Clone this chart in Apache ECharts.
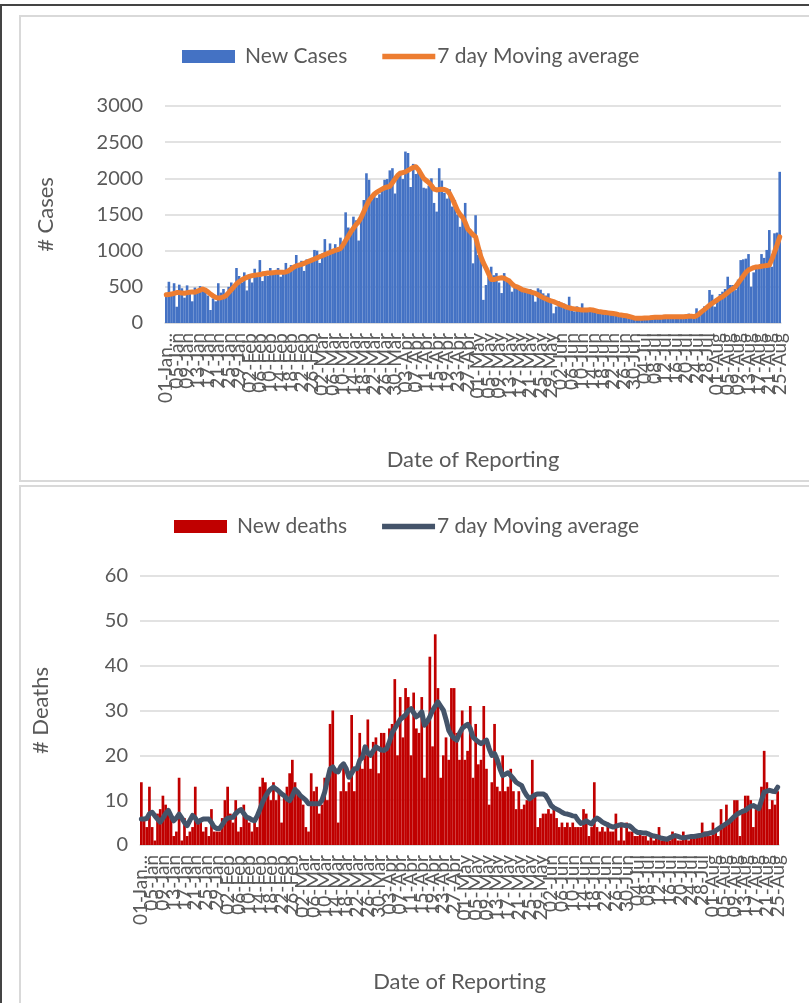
<!DOCTYPE html>
<html>
<head>
<meta charset="utf-8">
<script src="https://cdn.jsdelivr.net/npm/echarts@6/dist/echarts.min.js"></script>
<style>
  html, body { margin: 0; padding: 0; background: #ffffff; width: 809px; height: 1003px; overflow: hidden; }
  #frame { position: absolute; left: 0; top: 4px; width: 830px; height: 1020px; border-left: 2px solid #444; border-top: 2px solid #444; box-sizing: border-box; }
  .panel { position: absolute; left: 19px; width: 820px; border: 2px solid #D9D9D9; box-sizing: border-box; background: #fff; }
  #p1 { top: 15px; height: 467px; }
  #p2 { top: 485px; height: 520px; }
  #c1 { position: absolute; left: 21px; top: 17px; width: 800px; height: 463px; }
  #c2 { position: absolute; left: 21px; top: 487px; width: 800px; height: 514px; }
</style>
</head>
<body>
<div id="frame"></div>
<div class="panel" id="p1"></div>
<div class="panel" id="p2"></div>
<div id="c1"></div>
<div id="c2"></div>
<script>
// ---------- categories (2021, 01-Jan .. 25-Aug) ----------
const monthNames = ['Jan','Feb','Mar','Apr','May','Jun','Jul','Aug'];
const monthLengths = [31, 28, 31, 30, 31, 30, 31, 25];
const dates = [];
monthNames.forEach(function (m, k) {
  for (let d = 1; d <= monthLengths[k]; d++) dates.push((d < 10 ? '0' : '') + d + '-' + m);
});
const labelStep = 4;

// ---------- New cases (daily) ----------
const newCases = [
  380, 570, 420, 550, 225, 530, 480, 350, 520, 430,
  300, 490, 470, 510, 480, 440, 380, 180, 340, 300,
  550, 420, 470, 380, 500, 560, 480, 760, 650, 560,
  700, 450, 640, 560, 750, 690, 870, 580, 700, 650,
  760, 700, 690, 760, 640, 720, 830, 700, 800, 760,
  940, 800, 860, 720, 880, 830, 900, 1010, 1000, 830,
  960, 1160, 930, 1100, 980, 1090, 1020, 1180, 1080, 1530,
  1320, 1300, 1470, 1420, 1140, 1500, 1700, 2070, 1980, 1700,
  1800, 1730, 1780, 1850, 1980, 1990, 2110, 2140, 1790, 2020,
  2100, 1990, 2370, 2350, 1880, 2200, 2060, 2110, 2050, 1870,
  1860, 1900, 2000, 1660, 1540, 2140, 1970, 1800, 1720, 1850,
  1610, 1700, 1500, 1330, 1480, 1660, 1300, 1290, 825, 1490,
  940, 1010, 320, 525, 640, 778, 660, 690, 560, 414,
  690, 594, 580, 433, 520, 480, 470, 433, 450, 440,
  470, 387, 295, 480, 460, 410, 380, 410, 330, 134,
  226, 300, 280, 270, 250, 363, 200, 160, 230, 200,
  272, 160, 180, 200, 170, 150, 190, 140, 170, 130,
  140, 150, 120, 110, 130, 90, 100, 100, 80, 70,
  60, 70, 55, 80, 65, 70, 85, 60, 90, 80,
  70, 90, 85, 95, 75, 80, 100, 90, 85, 80,
  95, 130, 90, 100, 203, 150, 160, 230, 210, 456,
  391, 226, 300, 400, 433, 470, 640, 525, 525, 455,
  600, 870, 880, 890, 953, 502, 700, 778, 750, 953,
  900, 1010, 1285, 778, 1240, 1250, 2090
];

// ---------- Cases 7-day moving average ----------
const casesAvg = [
  390, 395, 400, 410, 420, 420, 415, 410, 420, 425,
  430, 425, 440, 455, 470, 455, 430, 400, 375, 355,
  345, 350, 360, 380, 420, 460, 500, 540, 570, 595,
  615, 630, 645, 655, 660, 665, 670, 680, 685, 690,
  690, 695, 700, 700, 700, 700, 705, 720, 745, 770,
  790, 800, 810, 825, 840, 855, 870, 885, 900, 915,
  930, 945, 960, 975, 990, 1005, 1015, 1030, 1080, 1140,
  1200, 1260, 1310, 1360, 1400, 1460, 1540, 1620, 1690, 1740,
  1780, 1810, 1830, 1850, 1870, 1880, 1890, 1940, 1990, 2040,
  2070, 2080, 2090, 2110, 2130, 2150, 2160, 2120, 2060, 2000,
  1970, 1940, 1900, 1850, 1840, 1845, 1850, 1845, 1830, 1790,
  1720, 1640, 1560, 1500, 1460, 1390, 1300, 1260, 1220, 1190,
  1050, 920, 830, 760, 680, 600, 600, 610, 620, 625,
  620, 600, 580, 540, 510, 500, 480, 460, 450, 440,
  430, 420, 410, 390, 370, 350, 335, 320, 305, 295,
  280, 265, 250, 235, 220, 210, 200, 195, 190, 185,
  180, 180, 180, 185, 180, 170, 160, 155, 150, 145,
  140, 135, 130, 125, 115, 110, 105, 100, 90, 80,
  70, 65, 65, 65, 68, 70, 72, 75, 78, 80,
  80, 82, 85, 85, 85, 88, 88, 88, 88, 88,
  90, 92, 95, 88, 100, 125, 157, 185, 215, 245,
  272, 295, 320, 345, 364, 390, 420, 450, 475, 502,
  550, 600, 650, 700, 733, 750, 765, 775, 778, 785,
  790, 795, 800, 880, 980, 1080, 1190
];

// ---------- New deaths (daily) ----------
const newDeaths = [
  14, 6, 4, 13, 4, 1, 7, 8, 11, 9,
  7, 6, 2, 3, 15, 1, 6, 2, 3, 4,
  13, 5, 6, 3, 4, 2, 8, 3, 3, 3,
  6, 10, 13, 7, 5, 10, 3, 4, 9, 6,
  5, 3, 6, 4, 13, 15, 14, 12, 10, 14,
  10, 12, 5, 11, 13, 16, 19, 14, 12, 11,
  9, 4, 3, 16, 12, 13, 7, 9, 15, 10,
  27, 30, 17, 5, 12, 18, 12, 14, 29, 12,
  17, 25, 17, 20, 28, 17, 23, 24, 16, 25,
  25, 22, 26, 27, 37, 20, 33, 24, 35, 33,
  20, 34, 26, 25, 33, 15, 28, 42, 22, 47,
  35, 15, 20, 24, 19, 35, 35, 25, 19, 30,
  19, 21, 31, 15, 27, 18, 19, 31, 17, 9,
  14, 27, 13, 12, 20, 12, 13, 17, 12, 8,
  12, 8, 9, 10, 10, 19, 11, 4, 6, 7,
  7, 8, 7, 8, 6, 4, 5, 4, 5, 4,
  5, 4, 4, 4, 8, 7, 2, 4, 14, 4,
  3, 4, 3, 5, 3, 3, 7, 1, 5, 1,
  5, 3, 3, 2, 2, 3, 2, 2, 1, 2,
  1, 2, 4, 1, 1, 1, 1, 3, 2, 1,
  1, 3, 2, 1, 2, 2, 2, 2, 5, 3,
  3, 2, 5, 3, 2, 8, 4, 9, 5, 6,
  10, 10, 2, 8, 11, 11, 10, 4, 8, 8,
  13, 21, 14, 8, 10, 9, 12
];

// ---------- Deaths 7-day moving average ----------
const deathsAvg = [
  5.8, 5.8, 5.9, 7.0, 7.3, 6.5, 5.8, 5.1, 6.0, 7.0,
  7.7, 6.5, 5.4, 6.0, 6.9, 6.0, 5.0, 4.3, 5.5, 6.6,
  6.0, 5.1, 5.5, 5.8, 5.8, 5.8, 5.0, 4.0, 3.7, 3.7,
  4.5, 5.5, 6.0, 6.1, 6.2, 7.0, 7.6, 7.9, 7.0, 6.2,
  6.0, 5.6, 5.4, 6.5, 8.0, 9.6, 10.8, 11.8, 12.5, 12.9,
  12.5, 12.0, 11.4, 11.0, 10.3, 9.9, 11.0, 12.4, 11.8, 11.0,
  10.5, 10.0, 9.2, 9.2, 9.2, 9.2, 9.2, 10.0, 11.8, 14.5,
  17.0, 17.4, 16.5, 16.3, 17.5, 18.1, 17.0, 15.1, 16.0, 17.0,
  17.0, 18.9, 19.5, 21.9, 20.5, 20.0, 21.0, 21.9, 21.5, 21.2,
  21.1, 21.5, 23.0, 25.0, 26.0, 27.0, 28.0, 28.5, 29.0, 30.0,
  30.4, 29.5, 28.6, 29.0, 29.7, 26.7, 27.5, 28.6, 30.0, 31.0,
  31.9, 31.0, 30.1, 28.0, 25.6, 24.5, 23.8, 23.4, 24.9, 26.0,
  26.5, 26.9, 26.0, 24.1, 23.5, 23.0, 22.6, 23.0, 23.4, 21.5,
  20.0, 20.4, 19.0, 17.0, 15.5, 15.8, 16.1, 15.5, 14.8, 14.0,
  13.6, 13.3, 12.0, 11.0, 10.3, 10.8, 11.2, 11.4, 11.4, 11.4,
  11.0, 10.0, 8.8, 8.3, 8.0, 7.7, 7.3, 7.0, 6.9, 6.7,
  6.5, 6.4, 5.5, 4.8, 5.0, 5.4, 5.0, 4.7, 5.5, 6.0,
  5.6, 5.1, 4.8, 4.5, 4.2, 4.0, 4.2, 4.4, 4.5, 4.4,
  4.3, 4.3, 3.8, 3.2, 2.8, 2.8, 2.7, 2.7, 2.5, 2.2,
  2.0, 1.9, 1.7, 1.5, 1.4, 1.3, 1.6, 1.9, 2.1, 1.9,
  1.7, 1.6, 1.7, 1.8, 1.9, 1.9, 2.0, 2.1, 2.2, 2.4,
  2.5, 2.7, 2.8, 3.2, 3.6, 4.0, 4.4, 4.8, 5.2, 5.8,
  6.4, 6.9, 7.2, 7.5, 7.7, 8.2, 8.6, 8.8, 8.5, 8.1,
  10.0, 11.8, 12.0, 12.2, 12.0, 11.9, 12.9
];

const caseTicks = { min: 0, max: 3000, interval: 500 };
const deathTicks = { min: 0, max: 60, interval: 10 };

// ---------- styles ----------
const FONT = 'Lato';
const TXT = '#595959';
const GRID = '#D9D9D9';
const lineIcon = 'path://M0,0 L40,0 L40,4 L0,4 Z';

// labels next to the first / last one, drawn on an overlay axis so that
// ECharts' min/max overlap handling does not drop them
const lastIdx = dates.length - 1;
const extraLabelIdx = [labelStep, lastIdx - labelStep];

function xLabelStyle(extra) {
  return Object.assign({
    rotate: 90,
    margin: 10,
    fontFamily: FONT,
    fontSize: 19,
    color: TXT,
    hideOverlap: false
  }, extra);
}

function build(cfg) {
  return {
    animation: false,
    textStyle: { fontFamily: FONT, color: TXT },
    legend: {
      top: 24,
      left: cfg.legendLeft,
      itemWidth: 53,
      itemHeight: 13,
      itemGap: 35,
      textStyle: { fontFamily: FONT, fontSize: 21, color: TXT },
      data: [
        { name: cfg.barName, icon: 'rect', textStyle: { padding: [0, 0, 0, 5] } },
        { name: '7 day Moving average', icon: lineIcon, textStyle: { padding: [0, 0, 0, -3] } }
      ]
    },
    grid: { left: cfg.gridLeft, top: 89, width: cfg.gridWidth, height: cfg.gridHeight, containLabel: false },
    xAxis: [
      {
        type: 'category',
        data: dates,
        boundaryGap: true,
        axisLine: { show: true, lineStyle: { color: GRID, width: 1.5 } },
        axisTick: { show: false },
        axisLabel: xLabelStyle({
          interval: labelStep - 1,
          showMinLabel: true,
          showMaxLabel: true,
          formatter: function (v, i) { return i === 0 ? v + '…' : v; }
        }),
        name: 'Date of Reporting',
        nameLocation: 'middle',
        nameGap: cfg.xNameGap,
        nameTextStyle: { fontFamily: FONT, fontSize: 22, color: TXT }
      },
      {
        type: 'category',
        data: dates,
        position: 'bottom',
        boundaryGap: true,
        axisLine: { show: false },
        axisTick: { show: false },
        splitLine: { show: false },
        axisLabel: xLabelStyle({
          interval: function (i) { return extraLabelIdx.indexOf(i) >= 0; }
        })
      }
    ],
    yAxis: {
      type: 'value',
      min: cfg.ticks.min,
      max: cfg.ticks.max,
      interval: cfg.ticks.interval,
      axisLine: { show: false },
      axisTick: { show: false },
      splitLine: { lineStyle: { color: GRID, width: 1.5 } },
      axisLabel: {
        fontFamily: FONT, fontSize: 20, color: TXT, margin: cfg.yLabelMargin,
        formatter: function (v) { return String(v); }
      },
      name: cfg.yName,
      nameLocation: 'middle',
      nameGap: cfg.yNameGap,
      nameRotate: 90,
      nameTextStyle: { fontFamily: FONT, fontSize: 22, color: TXT }
    },
    series: [
      {
        name: cfg.barName,
        type: 'bar',
        xAxisIndex: 0,
        data: cfg.bars,
        barCategoryGap: '0%',
        itemStyle: { color: cfg.barColor },
        emphasis: { disabled: true }
      },
      {
        name: '7 day Moving average',
        type: 'line',
        xAxisIndex: 0,
        data: cfg.avg,
        symbol: 'none',
        smooth: false,
        lineStyle: { color: cfg.lineColor, width: cfg.lineWidth, cap: 'round', join: 'round' },
        itemStyle: { color: cfg.lineColor },
        emphasis: { disabled: true }
      }
    ]
  };
}

const chart1 = echarts.init(document.getElementById('c1'), null, { renderer: 'canvas' });
chart1.setOption(build({
  barName: 'New Cases', bars: newCases, avg: casesAvg,
  barColor: '#4472C4', lineColor: '#ED7D31', lineWidth: 5,
  gridLeft: 144, gridWidth: 616, gridHeight: 217,
  legendLeft: 156, ticks: caseTicks,
  yName: '# Cases', yNameGap: 108, yLabelMargin: 22,
  xNameGap: 126
}));

const chart2 = echarts.init(document.getElementById('c2'), null, { renderer: 'canvas' });
chart2.setOption(build({
  barName: 'New deaths', bars: newDeaths, avg: deathsAvg,
  barColor: '#C00000', lineColor: '#44546A', lineWidth: 5,
  gridLeft: 119, gridWidth: 639, gridHeight: 269,
  legendLeft: 148, ticks: deathTicks,
  yName: '# Deaths', yNameGap: 88, yLabelMargin: 12,
  xNameGap: 126
}));
</script>
</body>
</html>
